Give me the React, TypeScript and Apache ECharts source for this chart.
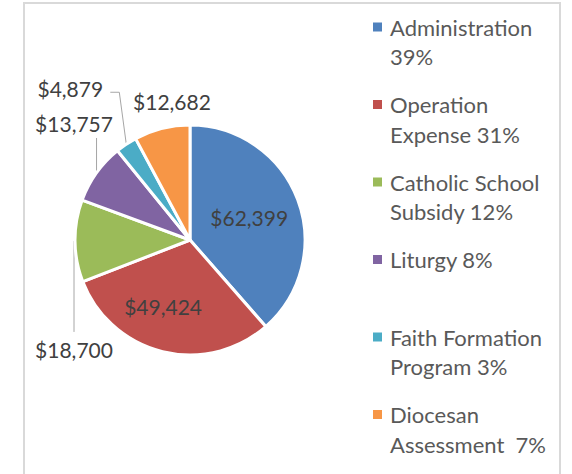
import React, { useEffect, useRef } from 'react';
import * as echarts from 'echarts';

const categories = [
  'Administration',
  'Operation Expense',
  'Catholic School Subsidy',
  'Liturgy',
  'Faith Formation Program',
  'Diocesan Assessment',
];
const amounts = [62399, 49424, 18700, 13757, 4879, 12682];
const legendLabels = [
  'Administration\n39%',
  'Operation\nExpense 31%',
  'Catholic School\nSubsidy 12%',
  'Liturgy 8%\n',
  'Faith Formation\nProgram 3%',
  'Diocesan\nAssessment  7%',
];
const colors = ['#4f81bd', '#c0504d', '#9bbb59', '#8064a2', '#4bacc6', '#f79646'];
const insideLabel = [true, true, false, false, false, false];

// label placement styling (Excel-like manual placement)
const insideSpot: number[][] = [[0.55, 0], [0.62, 8.4], [0, 0], [0, 0], [0, 0], [0, 0]];
const outsideShift: number[][] = [[0, 0], [0, 0], [-1, 109], [-22.5, -49], [-56, -56], [10, -26.5]];

const CX = 190;
const CY = 240;
const R = 115;
const FONT = 'Lato';
const LH = 29.5;

export default function App() {
  const ref = useRef<HTMLDivElement>(null);
  useEffect(() => {
    const chart = echarts.init(ref.current!, null, { renderer: 'svg' });
    const total = amounts.reduce((a, b) => a + b, 0);
    let acc = 0;
    const mids = amounts.map((v) => {
      const m = ((acc + v / 2) / total) * 2 * Math.PI;
      acc += v;
      return m;
    });
    const edge = (i: number) => [CX + R * Math.sin(mids[i]), CY - R * Math.cos(mids[i])];

    // legend marker: 9px square aligned with the first text line, inside a 2-line tall box
    const boxH = LH * 2;
    const sqTop = LH / 2 - 4.5;
    const iconPath = `path://M0,0h0 M0,${sqTop}h9v9h-9z M0,${boxH}h0`;

    chart.setOption({
      animation: false,
      color: colors,
      graphic: [
        {
          type: 'rect',
          silent: true,
          z: -10,
          shape: { x: 24, y: 3, width: 536, height: 520 },
          style: { fill: 'none', stroke: '#d9d9d9', lineWidth: 2 },
        },
      ],
      legend: {
        orient: 'vertical',
        left: 373,
        top: 27 - LH / 2,
        height: 520,
        padding: 0,
        itemGap: 77.5 - boxH,
        itemWidth: 9,
        itemHeight: boxH,
        icon: iconPath,
        itemStyle: { borderWidth: 0 },
        data: categories,
        formatter: (name: string) => legendLabels[categories.indexOf(name)],
        textStyle: {
          fontFamily: FONT,
          fontSize: 22,
          color: '#595959',
          lineHeight: LH,
          padding: [0, 0, 0, 3],
        },
      },
      series: [
        {
          type: 'pie',
          center: [CX, CY],
          radius: R,
          startAngle: 90,
          clockwise: true,
          avoidLabelOverlap: false,
          itemStyle: { borderColor: '#ffffff', borderWidth: 3 },
          label: {
            show: true,
            position: 'outside',
            fontFamily: FONT,
            fontSize: 21,
            color: '#404040',
            formatter: (p: any) => '$' + Number(p.value).toLocaleString('en-US'),
          },
          labelLine: {
            show: true,
            length: 10,
            length2: 10,
            lineStyle: { color: '#a6a6a6', width: 1 },
          },
          labelLayout: (p: any) => {
            const i = p.dataIndex;
            if (insideLabel[i]) {
              const [k, da] = insideSpot[i];
              const a = mids[i] + (da * Math.PI) / 180;
              return {
                x: CX + k * R * Math.sin(a),
                y: CY - k * R * Math.cos(a),
                align: 'center',
                verticalAlign: 'middle',
              };
            }
            const [ex, ey] = edge(i);
            const [dx, dy] = outsideShift[i];
            const lx = ex + dx;
            const ly = ey + dy;
            let pts: number[][] | undefined;
            if (i === 2) pts = [[lx, ey], [lx, ly - 18]];
            else if (i === 3) pts = [[ex, ey], [ex, ly + 14]];
            else if (i === 4) pts = [[ex, ey], [ex - 7, ly + 4], [ex - 16, ly + 4]];
            const res: any = { x: lx, y: ly, align: 'center', verticalAlign: 'middle' };
            if (pts) res.labelLinePoints = pts;
            return res;
          },
          data: categories.map((name, i) => ({
            name,
            value: amounts[i],
            label: insideLabel[i] ? { position: 'inside' } : undefined,
            labelLine: insideLabel[i] || i === 5 ? { show: false } : undefined,
          })),
        },
      ],
    });
    return () => chart.dispose();
  }, []);
  return (
    <div
      ref={ref}
      style={{ position: 'fixed', left: 0, top: 0, width: 572, height: 474, background: '#fff' }}
    />
  );
}
